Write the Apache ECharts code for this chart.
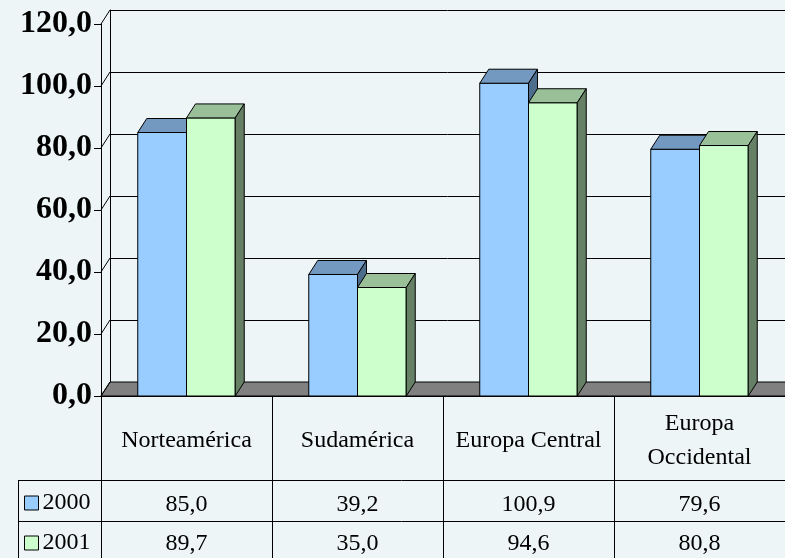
<!DOCTYPE html>
<html>
<head>
<meta charset="utf-8">
<script src="https://cdn.jsdelivr.net/npm/echarts@6/dist/echarts.min.js"></script>
<style>
  html, body { margin: 0; padding: 0; background: #EDF5F6; }
  #chart { width: 785px; height: 558px; }
</style>
</head>
<body>
<div id="chart"></div>
<script>
// Regions and yearly values
const categories = ['Norteamérica', 'Sudamérica', 'Europa Central', 'Europa\nOccidental'];
const seriesNames = ['2000', '2001'];
const values2000 = [85.0, 39.2, 100.9, 79.6];
const values2001 = [89.7, 35.0, 94.6, 80.8];
const yTicks = [0, 20, 40, 60, 80, 100, 120];

// Depth of the 3D box (pixels to the back wall)
const DX = 9, DY = -14;
const FONT = '"Liberation Serif", "Times New Roman", serif';

const fmt = v => v.toFixed(1).replace('.', ',');

const palette = {
  '2000': { front: '#99CCFF', top: '#7399C0', side: '#4D6D8C' },
  '2001': { front: '#CCFFCC', top: '#99C099', side: '#668066' }
};

function barRenderer(name, offsetSign) {
  const c = palette[name];
  return function (params, api) {
    const cat = api.value(0);
    const val = api.value(1);
    const band = api.size([1, 0])[0];
    const w = band * 0.285;
    const cx = api.coord([cat, 0])[0];
    const left = offsetSign < 0 ? cx - w : cx;
    const by = api.coord([cat, 0])[1];
    const ty = api.coord([cat, val])[1];
    const stroke = { stroke: '#000', lineWidth: 1 };
    return {
      type: 'group',
      children: [
        { type: 'rect', shape: { x: left, y: ty, width: w, height: by - ty },
          style: Object.assign({ fill: c.front }, stroke) },
        { type: 'polygon', shape: { points: [[left, ty], [left + w, ty], [left + w + DX, ty + DY], [left + DX, ty + DY]] },
          style: Object.assign({ fill: c.top }, stroke) },
        { type: 'polygon', shape: { points: [[left + w, ty], [left + w + DX, ty + DY], [left + w + DX, by + DY], [left + w, by]] },
          style: Object.assign({ fill: c.side }, stroke) }
      ]
    };
  };
}

function legendFor(name, top) {
  return {
    data: [name],
    orient: 'vertical',
    left: 24,
    top: top,
    padding: 0,
    itemWidth: 14,
    itemHeight: 14,
    icon: 'rect',
    selectedMode: false,
    itemStyle: { borderColor: '#000', borderWidth: 1 },
    textStyle: { fontFamily: FONT, fontSize: 24, color: '#000', padding: [0, 0, 0, -1] }
  };
}

const chart = echarts.init(document.getElementById('chart'), null, { renderer: 'canvas' });

const option = {
  backgroundColor: '#EDF5F6',
  animation: false,
  grid: [
    { left: 101, top: 24, width: 688, bottom: 162 },
    { left: 101 + DX, top: 24 + DY, width: 688, bottom: 162 - DY }
  ],
  legend: [legendFor(seriesNames[0], 491), legendFor(seriesNames[1], 531)],
  xAxis: [
    {
      gridIndex: 0, type: 'category', data: categories, position: 'bottom',
      axisLine: { show: true, lineStyle: { color: '#000', width: 1 } },
      axisTick: { show: true, length: 170, interval: 0, lineStyle: { color: '#000', width: 1 } },
      axisLabel: { interval: 0, margin: 45, verticalAlign: 'middle', lineHeight: 34,
                   fontFamily: FONT, fontSize: 24, color: '#000' },
      splitLine: { show: false }
    },
    {
      gridIndex: 0, type: 'category', data: values2000.map(fmt), position: 'bottom',
      axisLine: { show: false }, axisTick: { show: false },
      axisLabel: { interval: 0, margin: 109, verticalAlign: 'middle', fontFamily: FONT, fontSize: 24, color: '#000' }
    },
    {
      gridIndex: 0, type: 'category', data: values2001.map(fmt), position: 'bottom',
      axisLine: { show: false }, axisTick: { show: false },
      axisLabel: { interval: 0, margin: 148, verticalAlign: 'middle', fontFamily: FONT, fontSize: 24, color: '#000' }
    },
    {
      gridIndex: 1, type: 'category', data: categories, show: false
    }
  ],
  yAxis: [
    {
      gridIndex: 0, type: 'value', min: 0, max: 120, interval: 20,
      axisLine: { show: true, lineStyle: { color: '#000', width: 1 } },
      axisTick: { show: true, length: 7, lineStyle: { color: '#000', width: 1 } },
      axisLabel: { margin: 9, formatter: v => fmt(v), fontFamily: FONT, fontSize: 32,
                   fontWeight: 'bold', color: '#000', padding: [6, 0, 0, 0] },
      splitLine: { show: false }
    },
    {
      gridIndex: 1, type: 'value', min: 0, max: 120, interval: 20,
      axisLine: { show: true, lineStyle: { color: '#000', width: 1 } },
      axisTick: { show: false }, axisLabel: { show: false },
      splitLine: { show: true, lineStyle: { color: '#000', width: 1 } }
    }
  ],
  series: [
    {
      // floor of the 3D box
      name: 'floor', type: 'custom', xAxisIndex: 0, yAxisIndex: 0,
      data: [[0, 0]], silent: true,
      renderItem: function (params, api) {
        const cs = params.coordSys;
        const y0 = api.coord([0, 0])[1];
        return {
          type: 'polygon',
          shape: { points: [[cs.x, y0], [cs.x + DX, y0 + DY], [cs.x + cs.width + DX, y0 + DY], [cs.x + cs.width, y0]] },
          style: { fill: '#808080', stroke: '#000', lineWidth: 1 }
        };
      }
    },
    {
      // side wall tick connectors
      name: 'wall', type: 'custom', xAxisIndex: 0, yAxisIndex: 0,
      data: yTicks.map(v => [0, v]), silent: true,
      renderItem: function (params, api) {
        const cs = params.coordSys;
        const y = api.coord([0, api.value(1)])[1];
        return {
          type: 'line',
          shape: { x1: cs.x, y1: y, x2: cs.x + DX, y2: y + DY },
          style: { stroke: '#000', lineWidth: 1 }
        };
      }
    },
    {
      name: '2000', type: 'custom', xAxisIndex: 0, yAxisIndex: 0,
      itemStyle: { color: palette['2000'].front, borderColor: '#000', borderWidth: 1 },
      data: values2000.map((v, i) => [i, v]),
      encode: { x: 0, y: 1 },
      renderItem: barRenderer('2000', -1)
    },
    {
      name: '2001', type: 'custom', xAxisIndex: 0, yAxisIndex: 0,
      itemStyle: { color: palette['2001'].front, borderColor: '#000', borderWidth: 1 },
      data: values2001.map((v, i) => [i, v]),
      encode: { x: 0, y: 1 },
      renderItem: barRenderer('2001', 1)
    }
  ],
  graphic: [
    // data table rules
    { type: 'line', shape: { x1: 18, y1: 480.5, x2: 785, y2: 480.5 }, style: { stroke: '#000', lineWidth: 1 }, silent: true },
    { type: 'line', shape: { x1: 18, y1: 521.5, x2: 785, y2: 521.5 }, style: { stroke: '#000', lineWidth: 1 }, silent: true },
    { type: 'line', shape: { x1: 18.5, y1: 480, x2: 18.5, y2: 558 }, style: { stroke: '#000', lineWidth: 1 }, silent: true }
  ]
};

chart.setOption(option);
</script>
</body>
</html>
